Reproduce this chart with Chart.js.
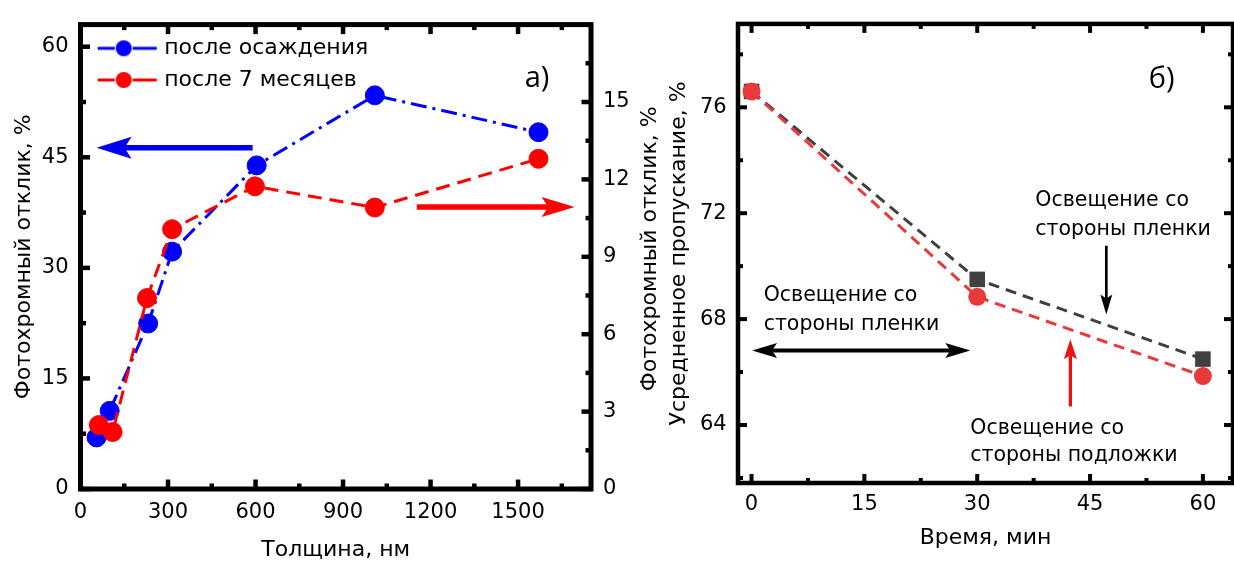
<!DOCTYPE html>
<html>
<head>
<meta charset="utf-8">
<script src="https://cdn.jsdelivr.net/npm/chart.js@4.4.1/dist/chart.umd.min.js"></script>
<style>
  html, body { margin: 0; padding: 0; background: #fff; }
  #wrap { position: relative; width: 1234px; height: 563px; overflow: hidden; }
  canvas { position: absolute; top: 0; }
  #chartA { left: 0; }
  #chartB { left: 664px; }
</style>
</head>
<body>
<div id="wrap">
  <canvas id="chartA" width="664" height="563"></canvas>
  <canvas id="chartB" width="570" height="563"></canvas>
</div>
<script>
// panel a: photochromic response vs thickness
const thicknessFresh = [55, 100, 232, 314, 604, 1009, 1570];
const responseFresh = [7.0, 10.6, 22.45, 32.2, 43.9, 53.4, 48.4];
const thicknessAged = [63, 110, 228, 314, 598, 1009, 1570];
const responseAged = [2.48, 2.21, 7.4, 10.07, 11.73, 10.91, 12.8];
const thicknessTicks = [0, 300, 600, 900, 1200, 1500];
const responseTicks = [0, 15, 30, 45, 60];
const responseAgedTicks = [0, 3, 6, 9, 12, 15];

// panel b: averaged transmittance vs time
const timeMin = [0, 30, 60];
const transFilmSide = [76.6, 69.5, 66.49];
const transSubstrateSide = [76.6, 68.84, 65.85];
const timeTicks = [0, 15, 30, 45, 60];
const transTicks = [64, 68, 72, 76];

// annotations (in data units)
const arrowsA = [
  { x1: 590, y1: 46.3, x2: 55, y2: 46.3, axis: 'y', color: '#0000ee', width: 5.5, head: 35, headW: 22 },
  { x1: 1153, y1: 10.93, x2: 1694, y2: 10.93, axis: 'y2', color: '#ff0000', width: 5.5, head: 33, headW: 20 }
];
const textsA = [
  { lines: ['а)'], x: 1565, y: 55.6, axis: 'y', font: '29px "Open Sans"', align: 'center', baseline: 'middle' }
];
const arrowsB = [
  { x1: 47.16, y1: 70.77, x2: 47.16, y2: 68.17, axis: 'y', color: '#000', width: 2.7, head: 20, headW: 12 },
  { x1: 0.07, y1: 66.81, x2: 29.08, y2: 66.81, axis: 'y', color: '#000', width: 4, head: 25, headW: 15, both: true },
  { x1: 42.38, y1: 64.7, x2: 42.38, y2: 67.24, axis: 'y', color: '#ee1111', width: 3.3, head: 20, headW: 13 }
];
const textsB = [
  { lines: ['Освещение со', 'стороны пленки'], x: 37.72, y: 72.26, axis: 'y', dy: 28.3 },
  { lines: ['Освещение со', 'стороны пленки'], x: 1.61, y: 68.67, axis: 'y', dy: 28.4 },
  { lines: ['Освещение со', 'стороны подложки'], x: 29.08, y: 63.65, axis: 'y', dy: 26.7 },
  { lines: ['б)'], x: 54.5, y: 77.05, axis: 'y', font: '29px "Open Sans"', align: 'center', baseline: 'middle' }
];

Chart.defaults.font.family = '"DejaVu Sans"';
Chart.defaults.color = '#000';

function arrowHead(ctx, x, y, ang, len, w) {
  const c = Math.cos(ang), s = Math.sin(ang);
  ctx.beginPath();
  ctx.moveTo(x, y);
  ctx.lineTo(x - len * c + w / 2 * s, y - len * s - w / 2 * c);
  ctx.lineTo(x - len * 0.8 * c, y - len * 0.8 * s);
  ctx.lineTo(x - len * c - w / 2 * s, y - len * s + w / 2 * c);
  ctx.closePath();
  ctx.fill();
}

const notes = {
  id: 'notes',
  afterDatasetsDraw(chart, args, opts) {
    const { ctx, scales } = chart;
    ctx.save();
    (opts.arrows || []).forEach(ar => {
      const ys = scales[ar.axis];
      const x1 = scales.x.getPixelForValue(ar.x1), y1 = ys.getPixelForValue(ar.y1);
      const x2 = scales.x.getPixelForValue(ar.x2), y2 = ys.getPixelForValue(ar.y2);
      const ang = Math.atan2(y2 - y1, x2 - x1);
      ctx.strokeStyle = ar.color;
      ctx.fillStyle = ar.color;
      ctx.lineWidth = ar.width;
      let sx = x1, sy = y1;
      if (ar.both) {
        sx = x1 + Math.cos(ang) * ar.head * 0.8;
        sy = y1 + Math.sin(ang) * ar.head * 0.8;
        arrowHead(ctx, x1, y1, ang + Math.PI, ar.head, ar.headW);
      }
      ctx.beginPath();
      ctx.moveTo(sx, sy);
      ctx.lineTo(x2 - Math.cos(ang) * ar.head * 0.8, y2 - Math.sin(ang) * ar.head * 0.8);
      ctx.stroke();
      arrowHead(ctx, x2, y2, ang, ar.head, ar.headW);
    });
    (opts.texts || []).forEach(t => {
      const x = scales.x.getPixelForValue(t.x);
      const y = scales[t.axis].getPixelForValue(t.y);
      ctx.fillStyle = '#000';
      ctx.font = t.font || '20.5px "DejaVu Sans"';
      ctx.textAlign = t.align || 'left';
      ctx.textBaseline = t.baseline || 'alphabetic';
      t.lines.forEach((line, i) => ctx.fillText(line, x, y + i * (t.dy || 0)));
    });
    ctx.restore();
  }
};

const frameTicks = {
  id: 'frameTicks',
  afterDraw(chart, args, opts) {
    const { ctx, chartArea: a } = chart;
    ctx.save();
    ctx.strokeStyle = '#000';
    ctx.lineWidth = opts.tickWidth;
    opts.axes.forEach(ax => {
      const s = chart.scales[ax.id];
      const major = s.ticks.map(t => t.value);
      const step = major[1] - major[0];
      const minor = [];
      for (let v = major[0] - step / 2; v <= s.max; v += step) {
        if (v >= s.min) minor.push(v);
      }
      [[major, opts.major], [minor, opts.minor]].forEach(([vals, len]) => {
        vals.forEach(v => {
          const p = s.getPixelForValue(v);
          ax.sides.forEach(side => {
            ctx.beginPath();
            if (side === 'bottom') { ctx.moveTo(p, a.bottom); ctx.lineTo(p, a.bottom - len); }
            if (side === 'top') { ctx.moveTo(p, a.top); ctx.lineTo(p, a.top + len); }
            if (side === 'left') { ctx.moveTo(a.left, p); ctx.lineTo(a.left + len, p); }
            if (side === 'right') { ctx.moveTo(a.right, p); ctx.lineTo(a.right - len, p); }
            ctx.stroke();
          });
        });
      });
    });
    ctx.lineWidth = opts.width;
    ctx.strokeRect(a.left, a.top, a.right - a.left, a.bottom - a.top);
    ctx.restore();
  }
};

// title of the right axis of panel a, reading bottom to top
const sideTitle = {
  id: 'sideTitle',
  afterDraw(chart, args, o) {
    const { ctx, chartArea: a } = chart;
    ctx.save();
    ctx.translate(chart.width - o.inset, (a.top + a.bottom) / 2 + o.shift);
    ctx.rotate(-Math.PI / 2);
    ctx.font = '22px "DejaVu Sans"';
    ctx.fillStyle = '#000';
    ctx.textAlign = 'center';
    ctx.textBaseline = 'middle';
    ctx.fillText(o.text, 0, 0);
    ctx.restore();
  }
};

function legendMark(color) {
  const c = document.createElement('canvas');
  c.width = 72;
  c.height = 20;
  const g = c.getContext('2d');
  g.strokeStyle = color;
  g.fillStyle = color;
  g.lineWidth = 3;
  g.beginPath();
  g.moveTo(12, 10); g.lineTo(29, 10);
  g.moveTo(47, 10); g.lineTo(71, 10);
  g.stroke();
  g.beginPath();
  g.arc(38, 10, 8, 0, Math.PI * 2);
  g.fill();
  return c;
}
const marks = [legendMark('#0000ff'), legendMark('#ff0000')];

// no extra side padding from the x labels, so the plot area edges stay where they are set
function fixX(h) {
  return s => { s.height = h; s.paddingLeft = 0; s.paddingRight = 0; };
}

function axisOpts(extra) {
  return Object.assign({
    type: 'linear',
    grid: { display: false, drawTicks: false },
    border: { display: false }
  }, extra);
}

new Chart(document.getElementById('chartA'), {
  type: 'line',
  data: {
    datasets: [
      {
        label: 'после осаждения',
        data: thicknessFresh.map((x, i) => ({ x, y: responseFresh[i] })),
        yAxisID: 'y',
        borderColor: '#0000ff',
        backgroundColor: '#0000ff',
        borderWidth: 3,
        borderDash: [16, 6, 3, 6],
        pointRadius: 9.5,
        pointBorderWidth: 1,
        tension: 0,
        order: 1
      },
      {
        label: 'после 7 месяцев',
        data: thicknessAged.map((x, i) => ({ x, y: responseAged[i] })),
        yAxisID: 'y2',
        borderColor: '#ff0000',
        backgroundColor: '#ff0000',
        borderWidth: 3,
        borderDash: [14, 8],
        pointRadius: 9.5,
        pointBorderWidth: 1,
        tension: 0,
        order: 0
      }
    ]
  },
  options: {
    responsive: false,
    animation: false,
    devicePixelRatio: 1,
    layout: { autoPadding: false, padding: { top: 16, left: 0, right: 0, bottom: 0 } },
    plugins: {
      tooltip: { enabled: false },
      legend: {
        position: 'chartArea',
        align: 'start',
        title: { display: true, text: '', font: { size: 10, lineHeight: 1 }, padding: { top: 0, bottom: 17.6 } },
        labels: {
          usePointStyle: true,
          pointStyleWidth: 63,
          padding: 9.7,
          color: '#000',
          font: { size: 22 },
          sort: (a, b) => a.datasetIndex - b.datasetIndex,
          generateLabels: chart => chart.data.datasets.map((d, i) => ({
            text: d.label,
            pointStyle: marks[i],
            datasetIndex: i,
            fontColor: '#000',
            lineWidth: 0,
            strokeStyle: 'transparent',
            fillStyle: 'transparent'
          }))
        }
      },
      notes: { arrows: arrowsA, texts: textsA },
      frameTicks: {
        width: 5, tickWidth: 4.5, major: 9.5, minor: 5.5,
        axes: [
          { id: 'x', sides: ['bottom', 'top'] },
          { id: 'y', sides: ['left'] },
          { id: 'y2', sides: ['right'] }
        ]
      },
      sideTitle: { text: 'Фотохромный отклик, %', inset: 13.6, shift: -8 }
    },
    scales: {
      x: axisOpts({
        min: 0, max: 1750,
        afterBuildTicks: s => { s.ticks = thicknessTicks.map(v => ({ value: v })); },
        afterFit: fixX(74),
        ticks: { font: { size: 21 }, padding: 11, autoSkip: false, maxRotation: 0, callback: v => String(v) },
        title: { display: true, text: 'Толщина, нм', font: { size: 22 }, padding: { top: 0, bottom: 0 } }
      }),
      y: axisOpts({
        position: 'left', min: 0, max: 63,
        afterBuildTicks: s => { s.ticks = responseTicks.map(v => ({ value: v })); },
        afterFit: s => { s.width = 80.5; },
        ticks: { font: { size: 21 }, padding: 12, autoSkip: false, callback: v => String(v) },
        title: { display: true, text: 'Фотохромный отклик, %', font: { size: 22 }, padding: { top: 11, bottom: 0 } }
      }),
      y2: axisOpts({
        position: 'right', min: 0, max: 18,
        afterBuildTicks: s => { s.ticks = responseAgedTicks.map(v => ({ value: v })); },
        afterFit: s => { s.width = 73; },
        ticks: { font: { size: 21 }, padding: 12, autoSkip: false, callback: v => String(v) }
      })
    }
  },
  plugins: [notes, frameTicks, sideTitle]
});

new Chart(document.getElementById('chartB'), {
  type: 'line',
  data: {
    datasets: [
      {
        label: 'Освещение со стороны пленки',
        data: timeMin.map((x, i) => ({ x, y: transFilmSide[i] })),
        borderColor: '#404040',
        backgroundColor: '#404040',
        borderWidth: 3,
        borderDash: [11, 7],
        pointStyle: 'rect',
        pointRadius: 11,
        pointBorderWidth: 0,
        tension: 0,
        order: 1
      },
      {
        label: 'Освещение со стороны подложки',
        data: timeMin.map((x, i) => ({ x, y: transSubstrateSide[i] })),
        borderColor: '#e83a3a',
        backgroundColor: '#e83a3a',
        borderWidth: 3,
        borderDash: [11, 7],
        pointRadius: 9,
        pointBorderWidth: 0,
        tension: 0,
        order: 0
      }
    ]
  },
  options: {
    responsive: false,
    animation: false,
    devicePixelRatio: 1,
    layout: { autoPadding: false, padding: { top: 16.2, left: 0, right: 1, bottom: 0 } },
    plugins: {
      tooltip: { enabled: false },
      legend: { display: false },
      notes: { arrows: arrowsB, texts: textsB },
      frameTicks: {
        width: 4.5, tickWidth: 4, major: 9, minor: 5,
        axes: [
          { id: 'x', sides: ['bottom', 'top'] },
          { id: 'y', sides: ['left', 'right'] }
        ]
      }
    },
    scales: {
      x: axisOpts({
        min: -1.8, max: 64,
        afterBuildTicks: s => { s.ticks = timeTicks.map(v => ({ value: v })); },
        afterFit: fixX(80),
        ticks: { font: { size: 21 }, padding: 9, autoSkip: false, maxRotation: 0, callback: v => String(v) },
        title: { display: true, text: 'Время, мин', font: { size: 22 }, padding: { top: 0, bottom: 12 } }
      }),
      y: axisOpts({
        position: 'left', min: 61.81, max: 79.15,
        afterBuildTicks: s => { s.ticks = transTicks.map(v => ({ value: v })); },
        afterFit: s => { s.width = 74; },
        ticks: { font: { size: 21 }, padding: 11.3, autoSkip: false, callback: v => String(v) },
        title: { display: true, text: 'Усредненное пропускание, %', font: { size: 22 }, padding: { top: 1.9, bottom: 0 } }
      })
    }
  },
  plugins: [notes, frameTicks]
});
</script>
</body>
</html>
